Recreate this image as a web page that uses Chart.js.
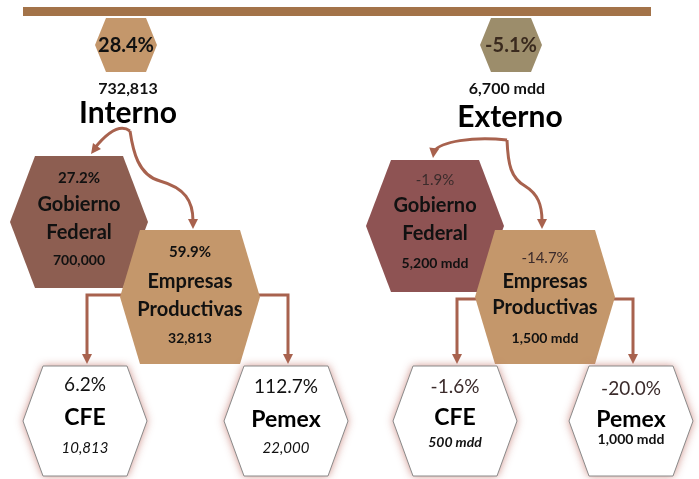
<!DOCTYPE html>
<html>
<head>
<meta charset="utf-8">
<script src="https://cdn.jsdelivr.net/npm/chart.js"></script>
<style>
    html, body { margin: 0; padding: 0; background: #fff; }
    #wrapper { width: 699px; height: 479px; }
</style>
</head>
<body>
<div id="wrapper">
    <canvas id="deuda" width="699" height="479"></canvas>
</div>
<script>
    // values
    var groups = ['Interno', 'Externo'];
    var groupTotal = ['732,813', '6,700 mdd'];
    var groupChange = ['28.4%', '-5.1%'];
    var nodeNames = [['Gobierno', 'Federal'], ['Empresas', 'Productivas'], ['CFE'], ['Pemex']];
    var internoChange = ['27.2%', '59.9%', '6.2%', '112.7%'];
    var internoAmount = ['700,000', '32,813', '10,813', '22,000'];
    var externoChange = ['-1.9%', '-14.7%', '-1.6%', '-20.0%'];
    var externoAmount = ['5,200 mdd', '1,500 mdd', '500 mdd', '1,000 mdd'];

    // layout: node centres (one unit = one pixel), order: total, gobierno, empresas, cfe, pemex
    var internoPos = [{x: 126, y: 45}, {x: 79, y: 222}, {x: 190, y: 297}, {x: 85, y: 421}, {x: 286, y: 421}];
    var externoPos = [{x: 511, y: 45}, {x: 435, y: 226}, {x: 545, y: 297}, {x: 455, y: 421}, {x: 631, y: 421}];
    // half width, half height, slant inset
    var hexSize = [[31, 27, 11], [69, 66, 25], [70, 67, 20], [62, 55, 20], [62, 55, 20]];

    var FONT = 'Lato, "Open Sans", sans-serif';
    var ARROW = '#A8624E';

    function hexPath(ctx, cx, cy, hw, hh, ins) {
        ctx.beginPath();
        ctx.moveTo(cx - hw, cy);
        ctx.lineTo(cx - hw + ins, cy - hh);
        ctx.lineTo(cx + hw - ins, cy - hh);
        ctx.lineTo(cx + hw, cy);
        ctx.lineTo(cx + hw - ins, cy + hh);
        ctx.lineTo(cx - hw + ins, cy + hh);
        ctx.closePath();
    }

    function arrowHead(ctx, x, y, fromX, fromY) {
        var a = Math.atan2(y - fromY, x - fromX);
        ctx.beginPath();
        ctx.moveTo(x, y);
        ctx.lineTo(x - 10 * Math.cos(a) + 5 * Math.sin(a), y - 10 * Math.sin(a) - 5 * Math.cos(a));
        ctx.lineTo(x - 10 * Math.cos(a) - 5 * Math.sin(a), y - 10 * Math.sin(a) + 5 * Math.cos(a));
        ctx.closePath();
        ctx.fill();
    }

    function txt(ctx, s, x, y, font, color) {
        ctx.font = font;
        ctx.fillStyle = color;
        ctx.textAlign = 'center';
        ctx.textBaseline = 'middle';
        ctx.fillText(s, x, y);
    }

    var hexPlugin = {
        id: 'hexes',
        afterDatasetsDraw: function (chart) {
            var ctx = chart.ctx;
            var xs = chart.scales.x, ys = chart.scales.y;
            var u = xs.getPixelForValue(1) - xs.getPixelForValue(0);
            ctx.save();

            // top bar
            ctx.fillStyle = '#A37349';
            ctx.fillRect(xs.getPixelForValue(23), ys.getPixelForValue(7), 628 * u, 9 * u);

            for (var d = 0; d < 2; d++) {
                var p = chart.getDatasetMeta(d).data;
                var change = d === 0 ? internoChange : externoChange;
                var amount = d === 0 ? internoAmount : externoAmount;
                var top = p[0], gob = p[1], emp = p[2], cfe = p[3], pem = p[4];

                ctx.strokeStyle = ARROW;
                ctx.fillStyle = ARROW;
                ctx.lineWidth = 3;
                ctx.lineCap = 'butt';

                // curved arrows from the group label
                var sx = top.x + (d === 0 ? 4 : -4), sy = top.y + (d === 0 ? 86 : 95);
                var gx = gob.x + (d === 0 ? 12 : -2), gy = gob.y - hexSize[1][1] - 2;
                ctx.beginPath();
                ctx.moveTo(sx, sy);
                if (d === 0) {
                    ctx.bezierCurveTo(sx - 12, sy - 9, sx - 28, sy + 8, gx + 3, gy - 5);
                } else {
                    ctx.bezierCurveTo(sx - 35, sy - 4, gx + 8, gy - 16, gx + 1, gy - 7);
                }
                ctx.stroke();
                arrowHead(ctx, gx, gy, gx + (d === 0 ? 6 : 1), gy - 8);

                var ex = emp.x + (d === 0 ? 3 : -3), ey = emp.y - hexSize[2][1] - 1;
                ctx.beginPath();
                ctx.moveTo(sx, sy);
                if (d === 0) {
                    ctx.bezierCurveTo(sx + 3, sy + 20, sx + 8, sy + 44, sx + 30, sy + 50);
                    ctx.bezierCurveTo(ex - 8, sy + 57, ex, sy + 70, ex, ey - 8);
                } else {
                    ctx.bezierCurveTo(sx + 1, sy + 25, sx + 4, sy + 38, sx + 18, sy + 46);
                    ctx.bezierCurveTo(ex - 4, sy + 54, ex, sy + 65, ex, ey - 8);
                }
                ctx.stroke();
                arrowHead(ctx, ex, ey, ex, ey - 8);

                // elbow connectors from empresas to cfe / pemex
                var ly = emp.y + (d === 0 ? -2 : 2);
                var by = cfe.y - hexSize[3][1] - 2;
                ctx.beginPath();
                ctx.moveTo(emp.x - 40, ly);
                ctx.lineTo(cfe.x + 2, ly);
                ctx.lineTo(cfe.x + 2, by - 8);
                ctx.moveTo(emp.x + 40, ly);
                ctx.lineTo(pem.x + 2, ly);
                ctx.lineTo(pem.x + 2, by - 8);
                ctx.stroke();
                arrowHead(ctx, cfe.x + 2, by, cfe.x + 2, by - 8);
                arrowHead(ctx, pem.x + 2, by, pem.x + 2, by - 8);

                // colored hexagons
                var fills = d === 0 ? ['#C4976B', '#8D5E51', '#C4976B'] : ['#9C8D6B', '#8E5353', '#C4976B'];
                for (var i = 0; i < 3; i++) {
                    var s = hexSize[i];
                    hexPath(ctx, p[i].x, p[i].y, s[0] * u, s[1] * u, s[2] * u);
                    ctx.fillStyle = fills[i];
                    ctx.fill();
                }

                // white hexagons with glow
                for (i = 3; i < 5; i++) {
                    s = hexSize[i];
                    ctx.save();
                    ctx.shadowColor = 'rgba(196, 120, 110, 0.85)';
                    ctx.shadowBlur = 9;
                    hexPath(ctx, p[i].x, p[i].y, s[0] * u, s[1] * u, s[2] * u);
                    ctx.fillStyle = '#ffffff';
                    ctx.fill();
                    ctx.restore();
                    hexPath(ctx, p[i].x, p[i].y, s[0] * u, s[1] * u, s[2] * u);
                    ctx.strokeStyle = '#8a8a8a';
                    ctx.lineWidth = 1;
                    ctx.stroke();
                }

                // group texts
                txt(ctx, groupChange[d], top.x, top.y + 1, 'bold 20px ' + FONT, d === 0 ? '#111' : '#3a2a1e');
                txt(ctx, groupTotal[d], top.x + (d === 0 ? 2 : -4), top.y + 44, 'bold 16px ' + FONT, '#111');
                txt(ctx, groups[d], top.x + (d === 0 ? 2 : -1), top.y + (d === 0 ? 68 : 72), 'bold 30px ' + FONT, '#000');

                // node texts
                var pctFont = d === 0 ? 'bold 15px ' + FONT : '15px ' + FONT;
                var pctCol = d === 0 ? '#111' : '#3b2b2b';
                var offs = d === 0 ? [[-44, -17, 11, 38], [-45, -15, 13, 41]] : [[-46, -20, 8, 37], [-39, -15, 11, 41]];
                for (i = 1; i < 3; i++) {
                    var o = offs[i - 1];
                    txt(ctx, change[i - 1], p[i].x, p[i].y + o[0], pctFont, pctCol);
                    txt(ctx, nodeNames[i - 1][0], p[i].x, p[i].y + o[1], 'bold 20px ' + FONT, '#111');
                    txt(ctx, nodeNames[i - 1][1], p[i].x, p[i].y + o[2], 'bold 20px ' + FONT, '#111');
                    txt(ctx, amount[i - 1], p[i].x, p[i].y + o[3], 'bold 14px ' + FONT, '#111');
                }
                var boffs = d === 0 ? [[-36, -3, 27], [-34, -1, 27]] : [[-34, -3, 21], [-32, -1, 18]];
                var amtFont = d === 0 ? ['italic 15px ' + FONT, 'italic 15px ' + FONT] :
                    ['italic bold 14px ' + FONT, 'bold 14px ' + FONT];
                for (i = 3; i < 5; i++) {
                    o = boffs[i - 3];
                    txt(ctx, change[i - 1], p[i].x, p[i].y + o[0], '19px ' + FONT, d === 0 ? '#111' : '#3b2b2b');
                    txt(ctx, nodeNames[i - 1][0], p[i].x, p[i].y + o[1], 'bold 23px ' + FONT, '#000');
                    txt(ctx, amount[i - 1], p[i].x, p[i].y + o[2], amtFont[i - 3], '#111');
                }
            }
            ctx.restore();
        }
    };

    var chart = new Chart('deuda', {
        type: 'scatter',
        data: {
            datasets: [
                {label: groups[0], data: internoPos, pointRadius: 0},
                {label: groups[1], data: externoPos, pointRadius: 0}
            ]
        },
        options: {
            responsive: false,
            animation: false,
            layout: {padding: 0},
            plugins: {
                legend: {display: false},
                tooltip: {enabled: false}
            },
            scales: {
                x: {type: 'linear', min: 0, max: 699, display: false},
                y: {type: 'linear', min: 0, max: 479, reverse: true, display: false}
            }
        },
        plugins: [hexPlugin]
    });
</script>
</body>
</html>
